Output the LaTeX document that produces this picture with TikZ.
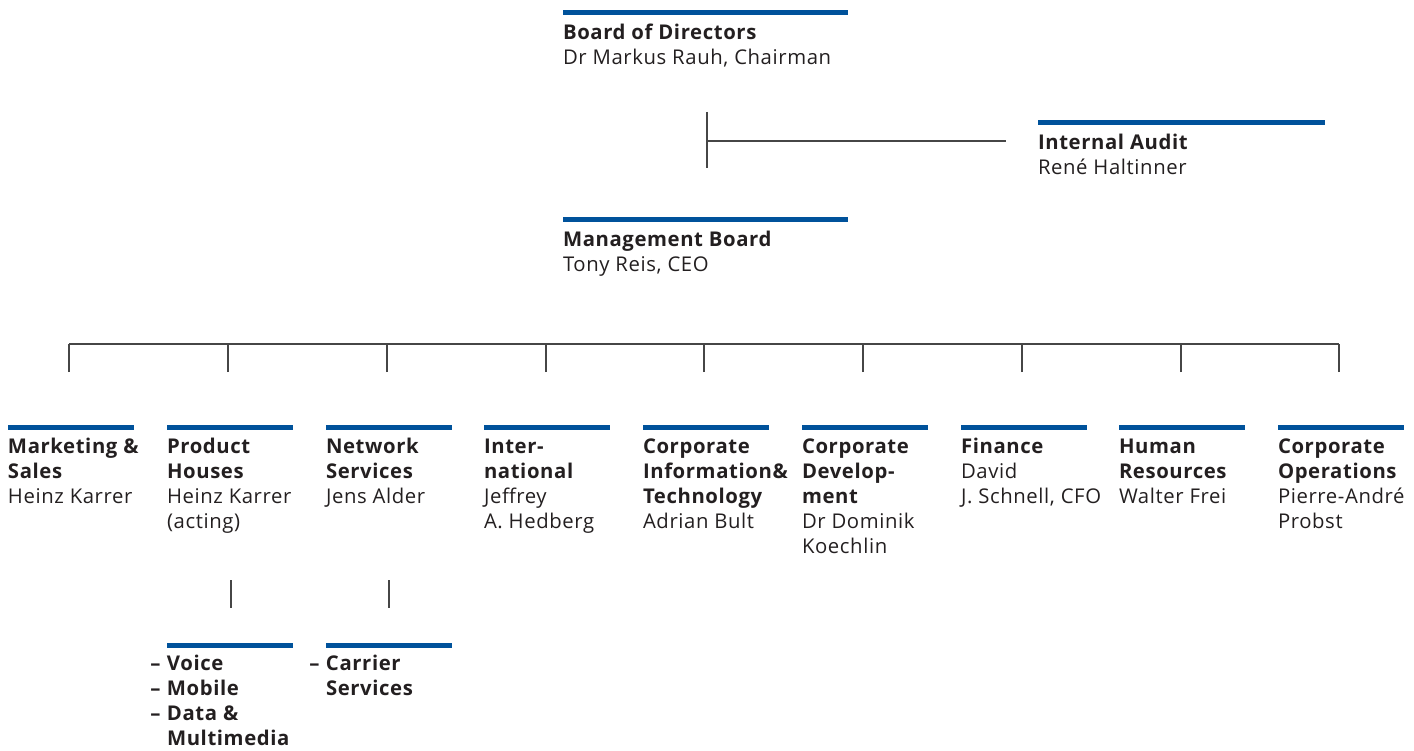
\documentclass[tikz,border=0pt]{standalone}
\usepackage{fontspec}
\setmainfont{Open Sans}[LetterSpace=3.0]
\definecolor{barblue}{RGB}{0,82,155}
\definecolor{ink}{RGB}{35,31,32}
\definecolor{linegray}{RGB}{70,70,70}
\tikzset{
  bar/.style={line width=5pt, draw=barblue},
  conn/.style={line width=1.1pt, draw=linegray},
  unit/.style={anchor=north west, inner sep=0pt, outer sep=0pt, align=left, text=ink,
    font=\fontsize{20.3}{25}\selectfont},
}
\newcommand\fl{\rule{0pt}{16pt}}
\newcommand\dsh{\llap{\textbf{–} }}
\begin{document}
\begin{tikzpicture}[x=1pt,y=-1pt]
\useasboundingbox (0,0) rectangle (1414,751);
% top
\draw[bar] (563,12.5) -- (848,12.5);
\node[unit] (board) at (563,24) {\fl\textbf{Board of Directors}\\Dr Markus Rauh, Chairman};
\draw[bar] (1038,122.5) -- (1325,122.5);
\node[unit] (audit) at (1038,134) {\fl\textbf{Internal Audit}\\René Haltinner};
\draw[bar] (563,219.5) -- (848,219.5);
\node[unit] (mgmt) at (563,231) {\fl\textbf{Management Board}\\Tony Reis, CEO};
\coordinate (vt) at (707,112);
\coordinate (vb) at (707,168);
\coordinate (vm) at (707,141);
\coordinate (ia) at (1006,141);
\draw[conn] (vt) -- (vb);
\draw[conn] (vm) -- (ia);
% bus
\coordinate (busL) at (69,344);
\coordinate (busR) at (1339,344);
\draw[conn] (busL) -- (busR);
\foreach \t in {69,228,387,546,704,863,1022,1181,1339}{
  \coordinate (tk\t) at (\t,372);
  \draw[conn] (tk\t) -- (\t,344);
}
% columns
\foreach \x in {8,167,326,484,643,802,961,1119,1278}{
  \draw[bar] (\x,427.5) -- (\x+126,427.5);
}
\node[unit] (ms) at (8,437) {\fl\textbf{Marketing \&}\\\textbf{Sales}\\Heinz Karrer};
\node[unit] (ph) at (167,437) {\fl\textbf{Product}\\\textbf{Houses}\\Heinz Karrer\\(acting)};
\node[unit] (ns) at (326,437) {\fl\textbf{Network}\\\textbf{Services}\\Jens Alder};
\node[unit] (intl) at (484,437) {\fl\textbf{Inter-}\\\textbf{national}\\Jeffrey\\A. Hedberg};
\node[unit] (cit) at (643,437) {\fl\textbf{Corporate}\\\textbf{Information\&}\\\textbf{Technology}\\Adrian Bult};
\node[unit] (cd) at (802,437) {\fl\textbf{Corporate}\\\textbf{Develop-}\\\textbf{ment}\\Dr Dominik\\Koechlin};
\node[unit] (fin) at (961,437) {\fl\textbf{Finance}\\David\\J. Schnell, CFO};
\node[unit] (hr) at (1119,437) {\fl\textbf{Human}\\\textbf{Resources}\\Walter Frei};
\node[unit] (co) at (1278,437) {\fl\textbf{Corporate}\\\textbf{Operations}\\Pierre-André\\Probst};
% lower
\coordinate (l1t) at (231,580);
\coordinate (l1b) at (231,608);
\coordinate (l2t) at (389,580);
\coordinate (l2b) at (389,608);
\draw[conn] (l1t) -- (l1b);
\draw[conn] (l2t) -- (l2b);
\draw[bar] (167,645.5) -- (293,645.5);
\draw[bar] (326,645.5) -- (452,645.5);
\node[unit] (phsub) at (167,654) {\fl\dsh\textbf{Voice}\\\dsh\textbf{Mobile}\\\dsh\textbf{Data \&}\\\textbf{Multimedia}};
\node[unit] (nssub) at (326,654) {\fl\dsh\textbf{Carrier}\\\textbf{Services}};
\end{tikzpicture}
\end{document}
